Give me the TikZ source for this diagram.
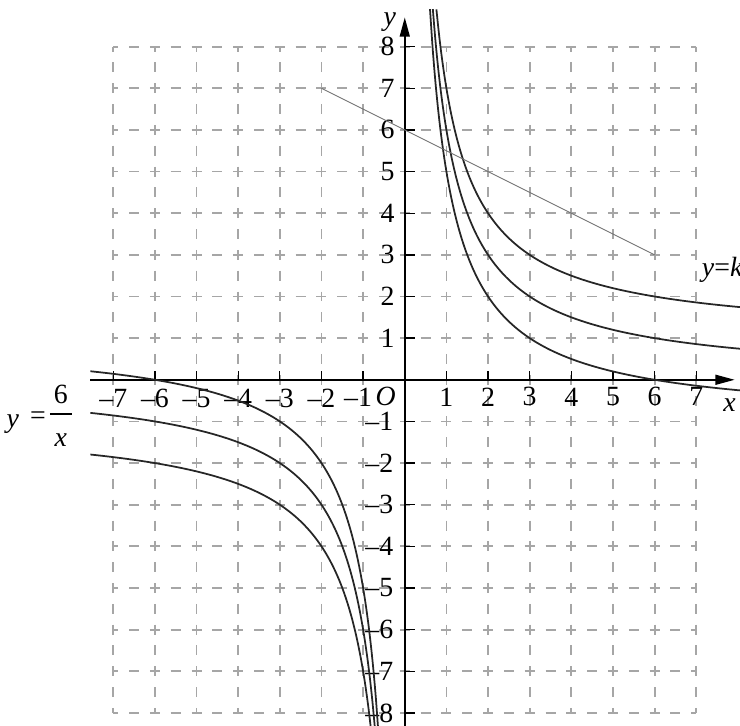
\documentclass[tikz,border=0pt]{standalone}
\usepackage{fontspec}
\setmainfont{Liberation Serif}
\newfontfamily\labfont{Liberation Serif}
\usetikzlibrary{arrows.meta}
\begin{document}
\begin{tikzpicture}[x=1cm,y=1cm,
  gridline/.style={gray!70, line width=1.2pt, dash pattern=on 0.24cm off 0.26cm, dash phase=0.12cm},
  axisline/.style={line width=1pt, -{Triangle[length=0.46cm,width=0.24cm]}},
  curve/.style={line width=1.2pt, black!85, smooth},
  chord/.style={line width=0.6pt, black!55},
  lab/.style={font=\labfont\fontsize{19}{21}\selectfont, inner sep=0pt},
  tickmark/.style={line width=0.9pt}]
\useasboundingbox (-9.72,-8.31) rectangle (8.05,9.12);
% grid
\foreach \i in {-7,...,7} \draw[gridline] (\i,8) -- (\i,-8);
\foreach \j in {-8,...,8} \draw[gridline] (-7,\j) -- (7,\j);
% axes
\coordinate (xs) at (-7.55,0);
\coordinate (xe) at (7.92,0);
\coordinate (ys) at (0,-8.4);
\coordinate (ye) at (0,8.7);
\draw[axisline] (xs) -- (xe);
\draw[axisline] (ys) -- (ye);
% ticks
\foreach \i in {-7,...,-1,1,2,...,7} \draw[tickmark] (\i,0) -- (\i,0.2);
\foreach \j in {-8,...,-1,1,2,...,8} \draw[tickmark] (0,\j) -- (0.25,\j);
% x labels
\foreach \i in {1,...,7} \node[lab] (xl\i) at (\i,-0.41) {\i};
\foreach \i in {2,...,7} \node[lab] (xm\i) at (-\i,-0.45) {\textendash\i};
\node[lab] (xm1) at (-1.12,-0.41) {\textendash1};
\node[lab] (O) at (-0.46,-0.41) {\textit{O}};
\node[lab] (xlab) at (7.8,-0.62) {\textit{x}};
\node[lab] (ylab) at (-0.36,8.6) {\textit{y}};
% y labels
\foreach \j in {1,...,8} \node[lab,anchor=east] (yl\j) at (-0.24,\j) {\j};
\foreach \j in {1,...,8} \node[lab,anchor=east] (ym\j) at (-0.27,-\j) {\textendash\j};
% curves
\draw[curve] plot[domain=0.76:8.1,samples=120] (\x,{6/\x+1});
\draw[curve] plot[domain=0.674:8.1,samples=120] (\x,{6/\x});
\draw[curve] plot[domain=0.606:8.1,samples=120] (\x,{6/\x-1});
\draw[curve] plot[domain=-7.55:-0.638,samples=120] (\x,{6/\x+1});
\draw[curve] plot[domain=-7.55:-0.714,samples=120] (\x,{6/\x});
\draw[curve] plot[domain=-7.55:-0.811,samples=120] (\x,{6/\x-1});
% line
\coordinate (la) at (-2,7);
\coordinate (lb) at (6,3);
\draw[chord] (la) -- (lb);
\node[lab,anchor=base west] (yk) at (7.13,2.47) {\textit{y}=\textit{k}};
% left label
\node[lab,anchor=base] (Ly) at (-9.41,-1.15) {\textit{y}};
\node[lab] (Leq) at (-8.81,-0.93) {=};
\node[lab] (L6) at (-8.26,-0.36) {6};
\node[lab] (Lx) at (-8.26,-1.44) {\textit{x}};
\coordinate (b1) at (-8.52,-0.82);
\coordinate (b2) at (-8.0,-0.82);
\draw[line width=0.8pt] (b1) -- (b2);
\end{tikzpicture}
\end{document}
